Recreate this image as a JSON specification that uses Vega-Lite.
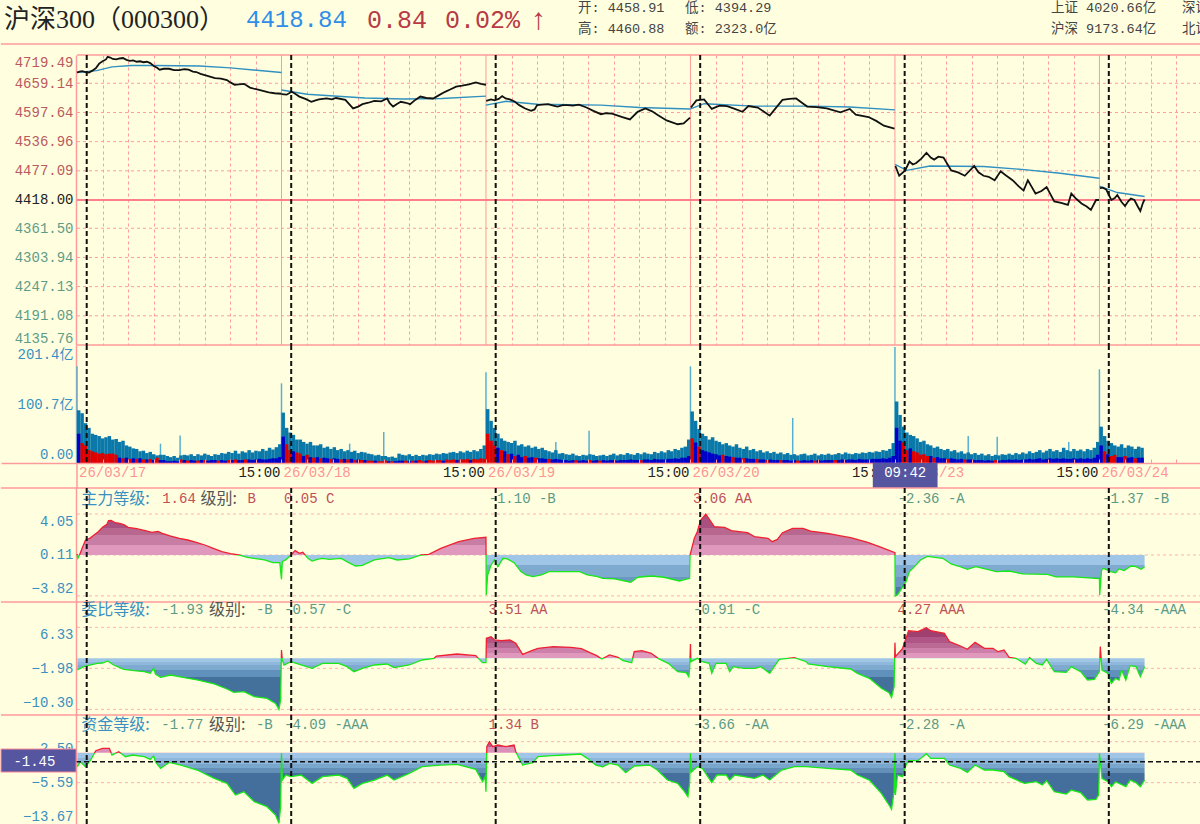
{"$schema":"https://vega.github.io/schema/vega-lite/v6.json","background":"#ffffe0","padding":0,"spacing":0,"bounds":"flush","resolve":{"scale":{"color":"independent"}},"config":{"view":{"stroke":null},"axis":{"labelFont":"Liberation Mono, Noto Sans CJK SC","labelFontSize":14,"ticks":false,"grid":false,"title":null,"domainColor":"#ff9a9a","domainWidth":1.5,"labelPadding":3}},
"datasets":{"cross":[{"t":11.4},{"t":251.4},{"t":491.4},{"t":731.4},{"t":971.4},{"t":1211}],"days":[{"t":240},{"t":480},{"t":720},{"t":960},{"t":1200}],
"vol":[{"t":2,"v":90,"l":50,"c":"b"},{"t":6,"v":85,"l":34,"c":"r"},{"t":10,"v":68,"l":30,"c":"r"},{"t":14,"v":60,"l":22,"c":"r"},{"t":18,"v":50,"l":20,"c":"r"},{"t":22,"v":48,"l":18,"c":"r"},{"t":26,"v":46,"l":16,"c":"r"},{"t":30,"v":42,"l":17,"c":"r"},{"t":34,"v":44,"l":15,"c":"r"},{"t":38,"v":46,"l":16,"c":"r"},{"t":42,"v":40,"l":16,"c":"r"},{"t":46,"v":41,"l":14,"c":"r"},{"t":50,"v":36,"l":9,"c":"b"},{"t":54,"v":38,"l":8,"c":"r"},{"t":58,"v":30,"l":9,"c":"b"},{"t":62,"v":28,"l":7,"c":"r"},{"t":66,"v":25,"l":8,"c":"b"},{"t":70,"v":24,"l":7,"c":"r"},{"t":74,"v":20,"l":8,"c":"b"},{"t":78,"v":21,"l":6,"c":"r"},{"t":82,"v":17,"l":6,"c":"b"},{"t":86,"v":19,"l":7,"c":"r"},{"t":90,"v":15,"l":5,"c":"b"},{"t":94,"v":13,"l":9,"c":"r"},{"t":98,"v":14,"l":5,"c":"b"},{"t":102,"v":14,"l":5,"c":"b"},{"t":106,"v":12,"l":3,"c":"b"},{"t":110,"v":10,"l":3,"c":"b"},{"t":114,"v":12,"l":4,"c":"b"},{"t":118,"v":9,"l":3,"c":"b"},{"t":122,"v":13,"l":6,"c":"r"},{"t":126,"v":14,"l":5,"c":"b"},{"t":130,"v":13,"l":4,"c":"r"},{"t":134,"v":15,"l":5,"c":"b"},{"t":138,"v":12,"l":4,"c":"b"},{"t":142,"v":15,"l":4,"c":"r"},{"t":146,"v":13,"l":5,"c":"b"},{"t":150,"v":16,"l":5,"c":"r"},{"t":154,"v":14,"l":4,"c":"b"},{"t":158,"v":12,"l":5,"c":"b"},{"t":162,"v":15,"l":5,"c":"b"},{"t":166,"v":14,"l":4,"c":"r"},{"t":170,"v":17,"l":5,"c":"b"},{"t":174,"v":16,"l":4,"c":"b"},{"t":178,"v":19,"l":5,"c":"r"},{"t":182,"v":17,"l":5,"c":"b"},{"t":186,"v":21,"l":6,"c":"r"},{"t":190,"v":16,"l":5,"c":"b"},{"t":194,"v":20,"l":5,"c":"b"},{"t":198,"v":18,"l":6,"c":"r"},{"t":202,"v":22,"l":6,"c":"b"},{"t":206,"v":18,"l":5,"c":"b"},{"t":210,"v":21,"l":6,"c":"b"},{"t":214,"v":20,"l":7,"c":"b"},{"t":218,"v":24,"l":6,"c":"b"},{"t":222,"v":21,"l":6,"c":"b"},{"t":226,"v":26,"l":7,"c":"b"},{"t":230,"v":23,"l":8,"c":"b"},{"t":234,"v":27,"l":8,"c":"b"},{"t":238,"v":32,"l":10,"c":"b"},
{"t":242,"v":86,"l":45,"c":"b"},{"t":246,"v":60,"l":32,"c":"r"},{"t":250,"v":52,"l":22,"c":"r"},{"t":254,"v":48,"l":20,"c":"b"},{"t":258,"v":40,"l":18,"c":"r"},{"t":262,"v":40,"l":16,"c":"r"},{"t":266,"v":36,"l":12,"c":"b"},{"t":270,"v":33,"l":14,"c":"r"},{"t":274,"v":36,"l":10,"c":"b"},{"t":278,"v":30,"l":9,"c":"r"},{"t":282,"v":30,"l":10,"c":"b"},{"t":286,"v":32,"l":8,"c":"r"},{"t":290,"v":26,"l":9,"c":"b"},{"t":294,"v":28,"l":8,"c":"b"},{"t":298,"v":24,"l":7,"c":"r"},{"t":302,"v":27,"l":8,"c":"b"},{"t":306,"v":22,"l":7,"c":"b"},{"t":310,"v":24,"l":6,"c":"r"},{"t":314,"v":20,"l":7,"c":"b"},{"t":318,"v":22,"l":6,"c":"r"},{"t":322,"v":19,"l":7,"c":"b"},{"t":326,"v":21,"l":5,"c":"r"},{"t":330,"v":17,"l":6,"c":"b"},{"t":334,"v":19,"l":5,"c":"r"},{"t":338,"v":18,"l":5,"c":"b"},{"t":342,"v":16,"l":4,"c":"r"},{"t":346,"v":15,"l":4,"c":"r"},{"t":350,"v":13,"l":4,"c":"b"},{"t":354,"v":14,"l":3,"c":"r"},{"t":358,"v":12,"l":3,"c":"r"},{"t":362,"v":12,"l":4,"c":"r"},{"t":366,"v":10,"l":3,"c":"b"},{"t":370,"v":11,"l":3,"c":"r"},{"t":374,"v":9,"l":3,"c":"b"},{"t":378,"v":16,"l":4,"c":"b"},{"t":382,"v":14,"l":4,"c":"b"},{"t":386,"v":13,"l":4,"c":"r"},{"t":390,"v":15,"l":3,"c":"b"},{"t":394,"v":12,"l":4,"c":"r"},{"t":398,"v":14,"l":4,"c":"b"},{"t":402,"v":12,"l":5,"c":"r"},{"t":406,"v":14,"l":3,"c":"r"},{"t":410,"v":13,"l":4,"c":"b"},{"t":414,"v":15,"l":5,"c":"r"},{"t":418,"v":14,"l":4,"c":"r"},{"t":422,"v":16,"l":5,"c":"r"},{"t":426,"v":15,"l":5,"c":"r"},{"t":430,"v":17,"l":4,"c":"b"},{"t":434,"v":16,"l":6,"c":"r"},{"t":438,"v":18,"l":5,"c":"r"},{"t":442,"v":19,"l":6,"c":"r"},{"t":446,"v":17,"l":5,"c":"b"},{"t":450,"v":20,"l":6,"c":"r"},{"t":454,"v":18,"l":6,"c":"r"},{"t":458,"v":21,"l":7,"c":"r"},{"t":462,"v":19,"l":5,"c":"b"},{"t":466,"v":22,"l":7,"c":"r"},{"t":470,"v":20,"l":6,"c":"r"},{"t":474,"v":24,"l":8,"c":"r"},{"t":478,"v":30,"l":7,"c":"r"},
{"t":482,"v":92,"l":50,"c":"r"},{"t":486,"v":72,"l":38,"c":"r"},{"t":490,"v":60,"l":30,"c":"r"},{"t":494,"v":50,"l":26,"c":"b"},{"t":498,"v":42,"l":22,"c":"r"},{"t":502,"v":38,"l":20,"c":"b"},{"t":506,"v":36,"l":15,"c":"r"},{"t":510,"v":34,"l":16,"c":"b"},{"t":514,"v":38,"l":12,"c":"r"},{"t":518,"v":30,"l":14,"c":"b"},{"t":522,"v":32,"l":10,"c":"b"},{"t":526,"v":28,"l":12,"c":"r"},{"t":530,"v":30,"l":9,"c":"b"},{"t":534,"v":26,"l":10,"c":"b"},{"t":538,"v":28,"l":9,"c":"r"},{"t":542,"v":24,"l":8,"c":"b"},{"t":546,"v":26,"l":8,"c":"b"},{"t":550,"v":22,"l":7,"c":"b"},{"t":554,"v":20,"l":7,"c":"r"},{"t":558,"v":18,"l":6,"c":"b"},{"t":562,"v":22,"l":7,"c":"b"},{"t":566,"v":16,"l":6,"c":"b"},{"t":570,"v":17,"l":5,"c":"b"},{"t":574,"v":15,"l":5,"c":"b"},{"t":578,"v":14,"l":4,"c":"b"},{"t":582,"v":16,"l":5,"c":"b"},{"t":586,"v":13,"l":5,"c":"r"},{"t":590,"v":12,"l":4,"c":"b"},{"t":594,"v":14,"l":5,"c":"b"},{"t":598,"v":13,"l":4,"c":"b"},{"t":602,"v":15,"l":5,"c":"r"},{"t":606,"v":14,"l":4,"c":"b"},{"t":610,"v":12,"l":5,"c":"b"},{"t":614,"v":13,"l":4,"c":"r"},{"t":618,"v":14,"l":5,"c":"b"},{"t":622,"v":12,"l":4,"c":"b"},{"t":626,"v":14,"l":5,"c":"b"},{"t":630,"v":16,"l":5,"c":"b"},{"t":634,"v":13,"l":4,"c":"b"},{"t":638,"v":15,"l":5,"c":"b"},{"t":642,"v":14,"l":5,"c":"b"},{"t":646,"v":17,"l":5,"c":"b"},{"t":650,"v":15,"l":6,"c":"b"},{"t":654,"v":14,"l":5,"c":"b"},{"t":658,"v":17,"l":5,"c":"b"},{"t":662,"v":15,"l":5,"c":"r"},{"t":666,"v":18,"l":6,"c":"b"},{"t":670,"v":16,"l":6,"c":"b"},{"t":674,"v":15,"l":5,"c":"b"},{"t":678,"v":19,"l":7,"c":"b"},{"t":682,"v":17,"l":6,"c":"b"},{"t":686,"v":20,"l":6,"c":"b"},{"t":690,"v":18,"l":6,"c":"b"},{"t":694,"v":22,"l":7,"c":"b"},{"t":698,"v":20,"l":7,"c":"b"},{"t":702,"v":24,"l":8,"c":"b"},{"t":706,"v":22,"l":7,"c":"b"},{"t":710,"v":26,"l":9,"c":"b"},{"t":714,"v":28,"l":9,"c":"b"},{"t":718,"v":40,"l":12,"c":"b"},
{"t":722,"v":88,"l":42,"c":"r"},{"t":726,"v":72,"l":35,"c":"b"},{"t":730,"v":58,"l":28,"c":"r"},{"t":734,"v":50,"l":22,"c":"b"},{"t":738,"v":46,"l":20,"c":"b"},{"t":742,"v":40,"l":18,"c":"b"},{"t":746,"v":44,"l":16,"c":"b"},{"t":750,"v":38,"l":15,"c":"b"},{"t":754,"v":36,"l":13,"c":"b"},{"t":758,"v":32,"l":14,"c":"r"},{"t":762,"v":34,"l":12,"c":"b"},{"t":766,"v":30,"l":11,"c":"b"},{"t":770,"v":28,"l":10,"c":"r"},{"t":774,"v":32,"l":9,"c":"b"},{"t":778,"v":26,"l":9,"c":"b"},{"t":782,"v":24,"l":8,"c":"r"},{"t":786,"v":28,"l":8,"c":"b"},{"t":790,"v":22,"l":7,"c":"b"},{"t":794,"v":24,"l":7,"c":"b"},{"t":798,"v":20,"l":7,"c":"r"},{"t":802,"v":22,"l":6,"c":"b"},{"t":806,"v":18,"l":6,"c":"b"},{"t":810,"v":20,"l":5,"c":"r"},{"t":814,"v":17,"l":6,"c":"b"},{"t":818,"v":19,"l":5,"c":"b"},{"t":822,"v":16,"l":5,"c":"b"},{"t":826,"v":18,"l":5,"c":"r"},{"t":830,"v":15,"l":5,"c":"b"},{"t":834,"v":17,"l":5,"c":"b"},{"t":838,"v":14,"l":4,"c":"b"},{"t":842,"v":15,"l":5,"c":"b"},{"t":846,"v":13,"l":4,"c":"r"},{"t":850,"v":15,"l":4,"c":"b"},{"t":854,"v":16,"l":5,"c":"b"},{"t":858,"v":13,"l":4,"c":"b"},{"t":862,"v":14,"l":5,"c":"b"},{"t":866,"v":16,"l":4,"c":"r"},{"t":870,"v":13,"l":5,"c":"b"},{"t":874,"v":15,"l":4,"c":"b"},{"t":878,"v":14,"l":5,"c":"b"},{"t":882,"v":16,"l":5,"c":"b"},{"t":886,"v":14,"l":5,"c":"b"},{"t":890,"v":15,"l":5,"c":"r"},{"t":894,"v":17,"l":5,"c":"b"},{"t":898,"v":15,"l":6,"c":"b"},{"t":902,"v":18,"l":5,"c":"b"},{"t":906,"v":16,"l":6,"c":"b"},{"t":910,"v":15,"l":6,"c":"b"},{"t":914,"v":17,"l":5,"c":"b"},{"t":918,"v":16,"l":7,"c":"b"},{"t":922,"v":18,"l":6,"c":"b"},{"t":926,"v":17,"l":6,"c":"b"},{"t":930,"v":19,"l":6,"c":"b"},{"t":934,"v":18,"l":7,"c":"b"},{"t":938,"v":20,"l":7,"c":"b"},{"t":942,"v":19,"l":7,"c":"b"},{"t":946,"v":22,"l":8,"c":"b"},{"t":950,"v":21,"l":7,"c":"b"},{"t":954,"v":24,"l":9,"c":"b"},{"t":958,"v":34,"l":12,"c":"b"},
{"t":962,"v":105,"l":60,"c":"b"},{"t":966,"v":82,"l":38,"c":"b"},{"t":970,"v":62,"l":35,"c":"r"},{"t":974,"v":52,"l":22,"c":"r"},{"t":978,"v":48,"l":25,"c":"b"},{"t":982,"v":46,"l":20,"c":"r"},{"t":986,"v":42,"l":18,"c":"r"},{"t":990,"v":36,"l":14,"c":"r"},{"t":994,"v":38,"l":15,"c":"r"},{"t":998,"v":32,"l":12,"c":"r"},{"t":1002,"v":30,"l":12,"c":"b"},{"t":1006,"v":26,"l":9,"c":"r"},{"t":1010,"v":28,"l":10,"c":"b"},{"t":1014,"v":24,"l":8,"c":"b"},{"t":1018,"v":22,"l":8,"c":"b"},{"t":1022,"v":24,"l":7,"c":"r"},{"t":1026,"v":20,"l":8,"c":"b"},{"t":1030,"v":22,"l":7,"c":"b"},{"t":1034,"v":18,"l":6,"c":"b"},{"t":1038,"v":20,"l":7,"c":"b"},{"t":1042,"v":16,"l":6,"c":"r"},{"t":1046,"v":18,"l":6,"c":"b"},{"t":1050,"v":15,"l":6,"c":"b"},{"t":1054,"v":17,"l":5,"c":"b"},{"t":1058,"v":14,"l":5,"c":"b"},{"t":1062,"v":16,"l":5,"c":"b"},{"t":1066,"v":13,"l":4,"c":"b"},{"t":1070,"v":15,"l":5,"c":"b"},{"t":1074,"v":12,"l":4,"c":"b"},{"t":1078,"v":14,"l":5,"c":"r"},{"t":1082,"v":13,"l":4,"c":"b"},{"t":1086,"v":15,"l":5,"c":"b"},{"t":1090,"v":14,"l":5,"c":"b"},{"t":1094,"v":16,"l":6,"c":"b"},{"t":1098,"v":14,"l":5,"c":"b"},{"t":1102,"v":17,"l":6,"c":"b"},{"t":1106,"v":15,"l":5,"c":"b"},{"t":1110,"v":18,"l":6,"c":"b"},{"t":1114,"v":16,"l":6,"c":"b"},{"t":1118,"v":20,"l":7,"c":"b"},{"t":1122,"v":17,"l":6,"c":"b"},{"t":1126,"v":19,"l":7,"c":"b"},{"t":1130,"v":22,"l":8,"c":"b"},{"t":1134,"v":18,"l":6,"c":"b"},{"t":1138,"v":21,"l":7,"c":"b"},{"t":1142,"v":24,"l":8,"c":"b"},{"t":1146,"v":20,"l":7,"c":"b"},{"t":1150,"v":22,"l":8,"c":"b"},{"t":1154,"v":19,"l":7,"c":"b"},{"t":1158,"v":26,"l":8,"c":"b"},{"t":1162,"v":22,"l":7,"c":"b"},{"t":1166,"v":20,"l":7,"c":"b"},{"t":1170,"v":24,"l":8,"c":"b"},{"t":1174,"v":21,"l":7,"c":"b"},{"t":1178,"v":23,"l":8,"c":"b"},{"t":1182,"v":20,"l":7,"c":"b"},{"t":1186,"v":24,"l":8,"c":"b"},{"t":1190,"v":22,"l":7,"c":"b"},{"t":1194,"v":26,"l":9,"c":"b"},{"t":1198,"v":36,"l":14,"c":"b"},
{"t":1202,"v":62,"l":30,"c":"b"},{"t":1206,"v":46,"l":20,"c":"r"},{"t":1210,"v":38,"l":15,"c":"b"},{"t":1214,"v":34,"l":12,"c":"r"},{"t":1218,"v":30,"l":14,"c":"r"},{"t":1222,"v":28,"l":10,"c":"b"},{"t":1226,"v":32,"l":10,"c":"b"},{"t":1230,"v":26,"l":12,"c":"r"},{"t":1234,"v":30,"l":9,"c":"b"},{"t":1238,"v":28,"l":10,"c":"b"},{"t":1242,"v":24,"l":8,"c":"r"},{"t":1246,"v":28,"l":9,"c":"b"},{"t":1250,"v":26,"l":9,"c":"b"}],
"p1":[{"t":0,"v":0.21},{"t":1,"v":-0.21},{"t":3,"v":0.11},{"t":6,"v":0.75},{"t":10,"v":1.55},{"t":15,"v":1.71},{"t":20,"v":2.03},{"t":25,"v":2.35},{"t":30,"v":2.77},{"t":35,"v":3.05},{"t":37,"v":3.41},{"t":40,"v":3.44},{"t":45,"v":3.21},{"t":50,"v":3.15},{"t":55,"v":3.02},{"t":60,"v":2.77},{"t":70,"v":2.64},{"t":80,"v":2.45},{"t":88,"v":2.29},{"t":95,"v":2.38},{"t":100,"v":2.19},{"t":110,"v":1.93},{"t":120,"v":1.71},{"t":130,"v":1.55},{"t":140,"v":1.33},{"t":150,"v":1.07},{"t":160,"v":0.75},{"t":170,"v":0.43},{"t":180,"v":0.24},{"t":190,"v":0.11},{"t":200,"v":-0.11},{"t":210,"v":-0.24},{"t":220,"v":-0.37},{"t":230,"v":-0.63},{"t":238,"v":-0.63},{"t":240,"v":-2.23},{"t":241,"v":-0.5},{"t":245,"v":-0.37},{"t":251,"v":0.11},{"t":256,"v":0.53},{"t":261,"v":0.27},{"t":265,"v":0.37},{"t":271,"v":-0.21},{"t":276,"v":-0.47},{"t":282,"v":-0.31},{"t":288,"v":-0.21},{"t":296,"v":-0.31},{"t":310,"v":-0.21},{"t":319,"v":-0.63},{"t":327,"v":-0.95},{"t":335,"v":-0.88},{"t":349,"v":-0.37},{"t":366,"v":-0.15},{"t":376,"v":-0.37},{"t":390,"v":-0.27},{"t":404,"v":0.11},{"t":413,"v":0.17},{"t":427,"v":0.75},{"t":448,"v":1.39},{"t":466,"v":1.71},{"t":480,"v":1.81},{"t":480.3,"v":-3.73},{"t":482,"v":-1.81},{"t":486,"v":-0.85},{"t":490,"v":-0.37},{"t":494,"v":-1.01},{"t":500,"v":-0.21},{"t":505,"v":-0.27},{"t":513,"v":-0.63},{"t":521,"v":-1.49},{"t":527,"v":-1.81},{"t":535,"v":-1.97},{"t":545,"v":-1.81},{"t":554,"v":-1.49},{"t":572,"v":-1.49},{"t":590,"v":-1.49},{"t":599,"v":-1.81},{"t":611,"v":-1.97},{"t":617,"v":-2.13},{"t":631,"v":-2.19},{"t":650,"v":-2.51},{"t":658,"v":-2.03},{"t":674,"v":-1.91},{"t":689,"v":-2.03},{"t":707,"v":-2.39},{"t":719,"v":-2.13},{"t":719.5,"v":0.11},{"t":724.5,"v":1.71},{"t":728,"v":2.35},{"t":732,"v":3.47},{"t":738,"v":4.05},{"t":744,"v":3.31},{"t":748,"v":2.83},{"t":760,"v":2.77},{"t":768,"v":2.45},{"t":777,"v":2.35},{"t":787,"v":2.25},{"t":795,"v":1.87},{"t":811,"v":1.71},{"t":816,"v":1.39},{"t":822,"v":1.61},{"t":828,"v":2.25},{"t":840,"v":2.67},{"t":852,"v":2.67},{"t":861,"v":2.41},{"t":881,"v":2.19},{"t":901,"v":1.87},{"t":908,"v":1.77},{"t":928,"v":1.33},{"t":944,"v":0.85},{"t":960,"v":0.33},{"t":960.3,"v":-3.83},{"t":963,"v":-3.73},{"t":973,"v":-2.45},{"t":977,"v":-1.49},{"t":983,"v":-1.01},{"t":990,"v":-0.37},{"t":998,"v":-0.02},{"t":1016,"v":-0.21},{"t":1026,"v":-0.75},{"t":1034,"v":-0.95},{"t":1045,"v":-1.27},{"t":1055,"v":-1.01},{"t":1079,"v":-1.49},{"t":1094,"v":-1.43},{"t":1110,"v":-1.71},{"t":1139,"v":-1.75},{"t":1149,"v":-2.0},{"t":1170,"v":-2.0},{"t":1200,"v":-2.16},{"t":1200.3,"v":-3.73},{"t":1202.5,"v":-1.33},{"t":1205,"v":-1.17},{"t":1213,"v":-1.49},{"t":1219,"v":-1.59},{"t":1223,"v":-1.23},{"t":1229,"v":-1.39},{"t":1237,"v":-0.95},{"t":1243,"v":-1.01},{"t":1249,"v":-1.27},{"t":1253,"v":-1.01}],
"p2":[{"t":0.4,"v":-2.32},{"t":8,"v":-1.64},{"t":16,"v":-1.3},{"t":24,"v":-0.96},{"t":30,"v":-0.9},{"t":36,"v":-0.49},{"t":43,"v":-1.3},{"t":55,"v":-2.18},{"t":67,"v":-2.45},{"t":79,"v":-2.65},{"t":86,"v":-2.99},{"t":90,"v":-1.98},{"t":92,"v":-3.13},{"t":98,"v":-3.8},{"t":110,"v":-3.33},{"t":126,"v":-3.87},{"t":141,"v":-4.34},{"t":161,"v":-5.15},{"t":176,"v":-6.17},{"t":184,"v":-6.85},{"t":196,"v":-6.71},{"t":208,"v":-7.72},{"t":223,"v":-8.06},{"t":233,"v":-9.08},{"t":237,"v":-10.29},{"t":239,"v":-8.4},{"t":240,"v":1.74},{"t":241,"v":-0.29},{"t":243,"v":-1.3},{"t":251,"v":-0.63},{"t":263,"v":-1.3},{"t":276,"v":-1.98},{"t":288,"v":-0.96},{"t":307,"v":-0.96},{"t":317,"v":-1.64},{"t":325,"v":-2.65},{"t":335,"v":-1.98},{"t":349,"v":-1.3},{"t":364,"v":-1.1},{"t":372,"v":-1.84},{"t":390,"v":-1.3},{"t":405,"v":-0.29},{"t":419,"v":0.05},{"t":422,"v":0.52},{"t":446,"v":0.93},{"t":468,"v":0.59},{"t":476,"v":-0.83},{"t":480,"v":-0.83},{"t":480.5,"v":4.11},{"t":486,"v":4.44},{"t":490,"v":3.77},{"t":498,"v":3.63},{"t":508,"v":3.77},{"t":515,"v":3.09},{"t":523,"v":0.86},{"t":533,"v":1.54},{"t":541,"v":2.08},{"t":559,"v":2.42},{"t":580,"v":2.28},{"t":592,"v":2.01},{"t":602,"v":1.2},{"t":610,"v":0.59},{"t":616,"v":-0.09},{"t":625,"v":0.73},{"t":635,"v":0.25},{"t":641,"v":-0.42},{"t":651,"v":-0.83},{"t":654,"v":1.4},{"t":663,"v":1.6},{"t":674,"v":1.06},{"t":682,"v":0.05},{"t":694,"v":-0.96},{"t":705,"v":-2.65},{"t":715,"v":-2.86},{"t":718,"v":-3.67},{"t":719,"v":-2.32},{"t":720,"v":2.96},{"t":720.5,"v":-0.63},{"t":728,"v":0.05},{"t":734,"v":-0.63},{"t":742,"v":-0.96},{"t":745,"v":-2.99},{"t":750,"v":-0.96},{"t":762,"v":-0.96},{"t":766,"v":-2.65},{"t":770,"v":-1.64},{"t":783,"v":-1.98},{"t":795,"v":-1.98},{"t":803,"v":-1.64},{"t":813,"v":-2.99},{"t":824,"v":-0.15},{"t":842,"v":0.19},{"t":856,"v":-0.63},{"t":858,"v":-1.1},{"t":881,"v":-1.64},{"t":908,"v":-2.11},{"t":916,"v":-2.99},{"t":930,"v":-4.0},{"t":944,"v":-6.03},{"t":953,"v":-6.91},{"t":956,"v":-7.86},{"t":959,"v":-5.7},{"t":960,"v":3.23},{"t":960.5,"v":0.39},{"t":969,"v":2.08},{"t":973,"v":4.11},{"t":976,"v":5.66},{"t":987,"v":5.46},{"t":997,"v":6.27},{"t":1002,"v":5.66},{"t":1018,"v":5.12},{"t":1024,"v":3.43},{"t":1037,"v":2.55},{"t":1045,"v":1.88},{"t":1054,"v":3.29},{"t":1065,"v":2.08},{"t":1075,"v":2.08},{"t":1081,"v":1.4},{"t":1088,"v":1.74},{"t":1094,"v":0.25},{"t":1102,"v":0.05},{"t":1113,"v":-1.1},{"t":1118,"v":0.19},{"t":1126,"v":-0.96},{"t":1133,"v":-1.3},{"t":1138,"v":-0.15},{"t":1147,"v":-2.65},{"t":1161,"v":-2.79},{"t":1167,"v":-1.64},{"t":1178,"v":-2.65},{"t":1186,"v":-4.34},{"t":1194,"v":-4.21},{"t":1200,"v":-2.65},{"t":1201,"v":2.42},{"t":1203,"v":-2.32},{"t":1210,"v":-2.99},{"t":1214,"v":-5.02},{"t":1219,"v":-4.0},{"t":1223,"v":-4.34},{"t":1226,"v":-2.32},{"t":1231,"v":-4.34},{"t":1236,"v":-1.44},{"t":1243,"v":-1.64},{"t":1248,"v":-3.67},{"t":1253,"v":-1.64}],
"p3":[{"t":0.4,"v":-2.44},{"t":4,"v":-1.45},{"t":10,"v":-2.44},{"t":16,"v":-1.12},{"t":22,"v":0.72},{"t":30,"v":1.18},{"t":38,"v":1.18},{"t":41,"v":-0.13},{"t":49,"v":0.53},{"t":57,"v":-0.46},{"t":65,"v":-0.13},{"t":79,"v":-0.46},{"t":86,"v":-0.99},{"t":90,"v":-0.33},{"t":92,"v":-1.45},{"t":98,"v":-2.76},{"t":108,"v":-1.58},{"t":122,"v":-2.11},{"t":141,"v":-3.09},{"t":161,"v":-4.74},{"t":176,"v":-5.73},{"t":186,"v":-8.03},{"t":196,"v":-7.37},{"t":208,"v":-9.34},{"t":223,"v":-10.33},{"t":233,"v":-11.98},{"t":237,"v":-13.62},{"t":239,"v":-10.33},{"t":240,"v":0.2},{"t":241,"v":-5.07},{"t":245,"v":-4.08},{"t":251,"v":-4.41},{"t":263,"v":-4.08},{"t":276,"v":-5.73},{"t":288,"v":-4.41},{"t":307,"v":-4.08},{"t":317,"v":-4.74},{"t":325,"v":-6.71},{"t":335,"v":-5.73},{"t":349,"v":-5.07},{"t":364,"v":-4.08},{"t":372,"v":-5.07},{"t":390,"v":-3.75},{"t":405,"v":-2.44},{"t":427,"v":-2.11},{"t":446,"v":-1.97},{"t":468,"v":-2.96},{"t":476,"v":-5.4},{"t":479,"v":-4.41},{"t":480,"v":-7.37},{"t":481,"v":1.51},{"t":484,"v":2.5},{"t":488,"v":1.51},{"t":494,"v":1.84},{"t":503,"v":1.51},{"t":513,"v":1.84},{"t":515,"v":0.53},{"t":523,"v":-2.11},{"t":535,"v":-1.65},{"t":541,"v":-0.46},{"t":558,"v":-0.26},{"t":572,"v":-0.13},{"t":591,"v":0.07},{"t":599,"v":-0.79},{"t":609,"v":-2.11},{"t":617,"v":-2.44},{"t":625,"v":-1.78},{"t":635,"v":-2.11},{"t":644,"v":-3.62},{"t":654,"v":-2.3},{"t":672,"v":-2.11},{"t":681,"v":-3.09},{"t":693,"v":-5.07},{"t":705,"v":-5.73},{"t":713,"v":-7.37},{"t":717,"v":-8.36},{"t":719,"v":-5.73},{"t":720,"v":0.2},{"t":721,"v":-3.5},{"t":728,"v":-2.44},{"t":734,"v":-2.76},{"t":745,"v":-5.59},{"t":751,"v":-4.08},{"t":762,"v":-4.08},{"t":766,"v":-5.07},{"t":772,"v":-4.08},{"t":783,"v":-4.41},{"t":795,"v":-4.74},{"t":805,"v":-4.08},{"t":813,"v":-5.07},{"t":827,"v":-3.09},{"t":842,"v":-2.44},{"t":856,"v":-2.44},{"t":881,"v":-2.76},{"t":908,"v":-3.09},{"t":916,"v":-4.08},{"t":930,"v":-5.07},{"t":944,"v":-7.7},{"t":953,"v":-10.0},{"t":956,"v":-10.86},{"t":959,"v":-7.37},{"t":960,"v":0.2},{"t":960.5,"v":-8.03},{"t":963,"v":-4.08},{"t":969,"v":-4.41},{"t":973,"v":-2.11},{"t":976,"v":-1.25},{"t":987,"v":-1.25},{"t":997,"v":0.13},{"t":1002,"v":-0.79},{"t":1018,"v":-0.79},{"t":1024,"v":-2.11},{"t":1037,"v":-2.76},{"t":1045,"v":-3.55},{"t":1054,"v":-2.11},{"t":1065,"v":-3.09},{"t":1075,"v":-3.09},{"t":1088,"v":-3.42},{"t":1094,"v":-4.41},{"t":1112,"v":-5.73},{"t":1126,"v":-5.4},{"t":1133,"v":-6.05},{"t":1138,"v":-5.2},{"t":1147,"v":-7.37},{"t":1161,"v":-7.83},{"t":1167,"v":-7.04},{"t":1178,"v":-7.57},{"t":1186,"v":-9.02},{"t":1196,"v":-8.88},{"t":1199,"v":-8.03},{"t":1199.6,"v":-4.41},{"t":1200,"v":0.2},{"t":1203,"v":-4.74},{"t":1210,"v":-5.4},{"t":1214,"v":-6.38},{"t":1219,"v":-5.4},{"t":1231,"v":-6.38},{"t":1236,"v":-5.07},{"t":1243,"v":-5.59},{"t":1248,"v":-6.38},{"t":1253,"v":-5.07}]},
"vconcat":[
{"width":1200,"height":55,"resolve":{"axis":{"x":"independent","y":"independent"}},"layer":[
{"data":{"values":[{"r":4}]},"mark":{"type":"rule","color":"#ff9a9a","strokeWidth":1.5},"encoding":{"y":{"field":"r","type":"quantitative","axis":null,"scale":{"domain":[1,2,3,4],"range":[8,20,29,44]}}}},
{"data":{"values":[{"s":"沪深300（000300）","c":1,"r":2}]},"mark":{"type":"text","align":"left","font":"Liberation Serif, Noto Sans CJK SC","fontSize":26,"color":"#222"},"encoding":{"x":{"field":"c","type":"quantitative","axis":null,"scale":{"domain":[1,2,3,4,5,6,7,8,9],"range":[3,245,366,444,530,577,684,1050,1181]}},"y":{"field":"r","type":"quantitative","axis":null},"text":{"field":"s"}}},
{"data":{"values":[{"s":"4418.84","c":2,"r":2}]},"mark":{"type":"text","align":"left","font":"Liberation Mono","fontSize":24,"color":"#2f8ee8"},"encoding":{"x":{"field":"c","type":"quantitative","axis":null},"y":{"field":"r","type":"quantitative","axis":null},"text":{"field":"s"}}},
{"data":{"values":[{"s":"0.84","c":3,"r":2},{"s":"0.02%","c":4,"r":2}]},"mark":{"type":"text","align":"left","font":"Liberation Mono","fontSize":25,"color":"#b83a46"},"encoding":{"x":{"field":"c","type":"quantitative","axis":null},"y":{"field":"r","type":"quantitative","axis":null},"text":{"field":"s"}}},
{"data":{"values":[{"s":"↑","c":5,"r":2}]},"mark":{"type":"text","align":"left","font":"Liberation Serif","fontSize":30,"color":"#b83a46"},"encoding":{"x":{"field":"c","type":"quantitative","axis":null},"y":{"field":"r","type":"quantitative","axis":null},"text":{"field":"s"}}},
{"data":{"values":[{"s":"开: 4458.91","c":6,"r":1},{"s":"低: 4394.29","c":7,"r":1},{"s":"高: 4460.88","c":6,"r":3},{"s":"额: 2323.0亿","c":7,"r":3},{"s":"上证 4020.66亿","c":8,"r":1},{"s":"沪深 9173.64亿","c":8,"r":3},{"s":"深证","c":9,"r":1},{"s":"北证","c":9,"r":3}]},"mark":{"type":"text","align":"left","font":"Liberation Mono, Noto Sans CJK SC","fontSize":13.5,"color":"#444"},"encoding":{"x":{"field":"c","type":"quantitative","axis":null},"y":{"field":"r","type":"quantitative","axis":null},"text":{"field":"s"}}}
]},
{"width":1200,"height":290,"resolve":{"axis":{"x":"independent","y":"independent"}},"layer":[
{"data":{"values":[{"g":4719.49},{"g":4135.76}]},"mark":{"type":"rule","color":"#ff9a9a","strokeWidth":1.5},"encoding":{"x":{"datum":0,"type":"quantitative","scale":{"domain":[-89.2,1319.2],"nice":false,"zero":false},"axis":{"values":[30,60,90,120,150,180,210,270,300,330,360,390,420,450,510,540,570,600,630,660,690,750,780,810,840,870,900,930,990,1020,1050,1080,1110,1140,1170,1230,1260,1290],"grid":true,"gridDash":[3,3],"gridColor":"#ff9c9c","gridWidth":1,"labels":false,"domain":false}},"x2":{"datum":1319.2},"y":{"field":"g","type":"quantitative","scale":{"type":"log","domain":[4135.76,4719.49],"nice":false,"zero":false},"axis":{"orient":"left","offset":-75,"values":[4719.49,4659.14,4597.64,4536.96,4477.09,4418,4361.5,4303.94,4247.13,4191.08,4135.76],"format":".2f","labelFlush":true,"labelColor":{"expr":"datum.value>4418.5?'#bb5a5e':(datum.value>4417?'#222':'#5f9c88')"}}}}},
{"data":{"values":[{"g":4659.14},{"g":4597.64},{"g":4536.96},{"g":4477.09},{"g":4361.5},{"g":4303.94},{"g":4247.13},{"g":4191.08}]},"mark":{"type":"rule","color":"#ff9c9c","strokeDash":[3,3]},"encoding":{"x":{"datum":0,"type":"quantitative","axis":null},"x2":{"datum":1319.2},"y":{"field":"g","type":"quantitative","axis":null}}},
{"data":{"name":"days"},"mark":{"type":"rule","color":"#ff9a9a"},"encoding":{"x":{"field":"t","type":"quantitative","axis":null}}},
{"data":{"values":[{"g":4418}]},"mark":{"type":"rule","color":"#ff7f8c","strokeWidth":2},"encoding":{"x":{"datum":0,"type":"quantitative","axis":null},"x2":{"datum":1319.2},"y":{"field":"g","type":"quantitative","axis":null}}},
{"data":{"values":[{"t":0,"m":4682,"d":1},{"t":23,"m":4686,"d":1},{"t":41,"m":4694,"d":1},{"t":64,"m":4697,"d":1},{"t":90,"m":4697,"d":1},{"t":144,"m":4696,"d":1},{"t":180,"m":4692,"d":1},{"t":240,"m":4682,"d":1},{"t":240,"m":4645,"d":2},{"t":270,"m":4636,"d":2},{"t":338,"m":4628,"d":2},{"t":383,"m":4626,"d":2},{"t":428,"m":4627,"d":2},{"t":480,"m":4632,"d":2},{"t":480,"m":4613,"d":3},{"t":504,"m":4621,"d":3},{"t":540,"m":4615,"d":3},{"t":615,"m":4613,"d":3},{"t":660,"m":4608,"d":3},{"t":720,"m":4605,"d":3},{"t":720,"m":4605,"d":4},{"t":736,"m":4616,"d":4},{"t":795,"m":4611,"d":4},{"t":862,"m":4611,"d":4},{"t":907,"m":4609,"d":4},{"t":960,"m":4603,"d":4},{"t":960,"m":4490,"d":5},{"t":974,"m":4478,"d":5},{"t":1001,"m":4487,"d":5},{"t":1064,"m":4486,"d":5},{"t":1109,"m":4480,"d":5},{"t":1154,"m":4472,"d":5},{"t":1200,"m":4462,"d":5},{"t":1200,"m":4446,"d":6},{"t":1221,"m":4433,"d":6},{"t":1253,"m":4425,"d":6}]},"mark":{"type":"line","color":"#3090c0","strokeWidth":1.4},"encoding":{"x":{"field":"t","type":"quantitative","axis":null},"y":{"field":"m","type":"quantitative","axis":null},"detail":{"field":"d"}}},
{"data":{"values":[{"t":0,"p":4682,"d":1},{"t":3,"p":4684,"d":1},{"t":6,"p":4685,"d":1},{"t":10,"p":4683,"d":1},{"t":14,"p":4682,"d":1},{"t":18,"p":4686,"d":1},{"t":22,"p":4691,"d":1},{"t":26,"p":4701,"d":1},{"t":30,"p":4706,"d":1},{"t":34,"p":4710,"d":1},{"t":36,"p":4715.5,"d":1},{"t":39,"p":4714,"d":1},{"t":42,"p":4711,"d":1},{"t":46,"p":4710,"d":1},{"t":50,"p":4712,"d":1},{"t":54,"p":4713,"d":1},{"t":58,"p":4709,"d":1},{"t":62,"p":4707,"d":1},{"t":66,"p":4708,"d":1},{"t":70,"p":4705,"d":1},{"t":74,"p":4706,"d":1},{"t":78,"p":4704,"d":1},{"t":82,"p":4705,"d":1},{"t":86,"p":4702,"d":1},{"t":90,"p":4696,"d":1},{"t":94,"p":4692,"d":1},{"t":97,"p":4688,"d":1},{"t":102,"p":4690,"d":1},{"t":108,"p":4690,"d":1},{"t":114,"p":4687,"d":1},{"t":120,"p":4687,"d":1},{"t":126,"p":4689,"d":1},{"t":131,"p":4688,"d":1},{"t":136,"p":4684,"d":1},{"t":140,"p":4683,"d":1},{"t":145,"p":4679,"d":1},{"t":149,"p":4677,"d":1},{"t":155,"p":4674,"d":1},{"t":162,"p":4670,"d":1},{"t":169,"p":4669,"d":1},{"t":176,"p":4666,"d":1},{"t":180,"p":4661,"d":1},{"t":185,"p":4656,"d":1},{"t":190,"p":4657,"d":1},{"t":196,"p":4658,"d":1},{"t":203,"p":4650,"d":1},{"t":209,"p":4647,"d":1},{"t":216,"p":4644,"d":1},{"t":225,"p":4640,"d":1},{"t":232,"p":4638,"d":1},{"t":240,"p":4637,"d":1},
{"t":240,"p":4636,"d":2},{"t":246,"p":4635,"d":2},{"t":252,"p":4641,"d":2},{"t":256,"p":4637,"d":2},{"t":261,"p":4631,"d":2},{"t":268,"p":4626,"d":2},{"t":275,"p":4620,"d":2},{"t":280,"p":4623,"d":2},{"t":284,"p":4625,"d":2},{"t":293,"p":4627,"d":2},{"t":299,"p":4625,"d":2},{"t":304,"p":4628,"d":2},{"t":315,"p":4624,"d":2},{"t":320,"p":4614,"d":2},{"t":324,"p":4606,"d":2},{"t":330,"p":4610,"d":2},{"t":335,"p":4615,"d":2},{"t":342,"p":4618,"d":2},{"t":349,"p":4622,"d":2},{"t":357,"p":4621,"d":2},{"t":364,"p":4627,"d":2},{"t":367,"p":4617,"d":2},{"t":371,"p":4610,"d":2},{"t":376,"p":4616,"d":2},{"t":380,"p":4620,"d":2},{"t":386,"p":4618,"d":2},{"t":391,"p":4615,"d":2},{"t":397,"p":4624,"d":2},{"t":403,"p":4631,"d":2},{"t":410,"p":4628,"d":2},{"t":418,"p":4627,"d":2},{"t":425,"p":4634,"d":2},{"t":432,"p":4641,"d":2},{"t":438,"p":4646,"d":2},{"t":445,"p":4652,"d":2},{"t":452,"p":4654,"d":2},{"t":460,"p":4657,"d":2},{"t":468,"p":4661,"d":2},{"t":474,"p":4658,"d":2},{"t":480,"p":4656,"d":2},
{"t":480.3,"p":4622,"d":3},{"t":486,"p":4625,"d":3},{"t":490,"p":4623,"d":3},{"t":495,"p":4626,"d":3},{"t":499,"p":4632,"d":3},{"t":503,"p":4627,"d":3},{"t":508,"p":4625,"d":3},{"t":514,"p":4620,"d":3},{"t":519,"p":4613,"d":3},{"t":526,"p":4606,"d":3},{"t":533,"p":4601,"d":3},{"t":537,"p":4604,"d":3},{"t":540,"p":4613,"d":3},{"t":546,"p":4614,"d":3},{"t":553,"p":4615,"d":3},{"t":559,"p":4612,"d":3},{"t":564,"p":4610,"d":3},{"t":570,"p":4613,"d":3},{"t":576,"p":4613,"d":3},{"t":582,"p":4612,"d":3},{"t":589,"p":4614,"d":3},{"t":598,"p":4608,"d":3},{"t":606,"p":4601,"d":3},{"t":615,"p":4594,"d":3},{"t":621,"p":4596,"d":3},{"t":628,"p":4595,"d":3},{"t":640,"p":4588,"d":3},{"t":649,"p":4583,"d":3},{"t":658,"p":4599,"d":3},{"t":667,"p":4606,"d":3},{"t":675,"p":4600,"d":3},{"t":682,"p":4592,"d":3},{"t":692,"p":4581,"d":3},{"t":705,"p":4573,"d":3},{"t":712,"p":4575,"d":3},{"t":719.5,"p":4587,"d":3},
{"t":720.5,"p":4608,"d":4},{"t":727,"p":4623,"d":4},{"t":736,"p":4625,"d":4},{"t":745,"p":4605,"d":4},{"t":754,"p":4612,"d":4},{"t":763,"p":4611,"d":4},{"t":772,"p":4605,"d":4},{"t":781,"p":4599,"d":4},{"t":788,"p":4611,"d":4},{"t":799,"p":4608,"d":4},{"t":813,"p":4591,"d":4},{"t":822,"p":4611,"d":4},{"t":828,"p":4624,"d":4},{"t":836,"p":4626,"d":4},{"t":844,"p":4627,"d":4},{"t":850,"p":4619,"d":4},{"t":857,"p":4610,"d":4},{"t":868,"p":4609,"d":4},{"t":880,"p":4606,"d":4},{"t":896,"p":4598,"d":4},{"t":907,"p":4605,"d":4},{"t":914,"p":4593,"d":4},{"t":929,"p":4588,"d":4},{"t":938,"p":4580,"d":4},{"t":947,"p":4570,"d":4},{"t":959.5,"p":4564,"d":4},
{"t":960.5,"p":4487,"d":5},{"t":965,"p":4467,"d":5},{"t":972,"p":4478,"d":5},{"t":977,"p":4496,"d":5},{"t":981,"p":4490,"d":5},{"t":985,"p":4493,"d":5},{"t":991,"p":4502,"d":5},{"t":997,"p":4514,"d":5},{"t":1002,"p":4504,"d":5},{"t":1006,"p":4500,"d":5},{"t":1011,"p":4506,"d":5},{"t":1017,"p":4504,"d":5},{"t":1026,"p":4478,"d":5},{"t":1034,"p":4474,"d":5},{"t":1042,"p":4467,"d":5},{"t":1053,"p":4487,"d":5},{"t":1058,"p":4474,"d":5},{"t":1064,"p":4467,"d":5},{"t":1070,"p":4465,"d":5},{"t":1077,"p":4458,"d":5},{"t":1084,"p":4476,"d":5},{"t":1090,"p":4468,"d":5},{"t":1098,"p":4458,"d":5},{"t":1105,"p":4446,"d":5},{"t":1111,"p":4437,"d":5},{"t":1116,"p":4458,"d":5},{"t":1120,"p":4446,"d":5},{"t":1125,"p":4431,"d":5},{"t":1132,"p":4436,"d":5},{"t":1138,"p":4444,"d":5},{"t":1147,"p":4415,"d":5},{"t":1155,"p":4412,"d":5},{"t":1163,"p":4408,"d":5},{"t":1167,"p":4431,"d":5},{"t":1173,"p":4420,"d":5},{"t":1179,"p":4411,"d":5},{"t":1185,"p":4405,"d":5},{"t":1190,"p":4398,"d":5},{"t":1196,"p":4418,"d":5},{"t":1199.5,"p":4418,"d":5},
{"t":1200.5,"p":4442,"d":6},{"t":1204,"p":4443,"d":6},{"t":1208,"p":4439,"d":6},{"t":1214,"p":4418,"d":6},{"t":1218,"p":4422,"d":6},{"t":1221,"p":4428,"d":6},{"t":1226,"p":4414,"d":6},{"t":1230,"p":4406,"d":6},{"t":1234,"p":4416,"d":6},{"t":1237,"p":4421,"d":6},{"t":1241,"p":4418,"d":6},{"t":1245,"p":4405,"d":6},{"t":1248,"p":4396,"d":6},{"t":1251,"p":4412,"d":6},{"t":1253,"p":4419,"d":6}]},"mark":{"type":"line","color":"#111","strokeWidth":1.8},"encoding":{"x":{"field":"t","type":"quantitative","axis":null},"y":{"field":"p","type":"quantitative","axis":null},"detail":{"field":"d"}}},
{"data":{"name":"cross"},"mark":{"type":"rule","color":"#111","strokeWidth":2,"strokeDash":[5,3]},"encoding":{"x":{"field":"t","type":"quantitative","axis":null}}}
]},
{"width":1200,"height":118,"resolve":{"axis":{"x":"independent","y":"independent"}},"layer":[
{"data":{"values":[{"t":0,"s":165},{"t":98,"s":33},{"t":121,"s":47},{"t":240,"s":136},{"t":320,"s":33},{"t":360,"s":53},{"t":480,"s":155},{"t":562,"s":36},{"t":601,"s":55},{"t":720,"s":165},{"t":840,"s":77},{"t":960,"s":198},{"t":1046,"s":46},{"t":1080,"s":45},{"t":1164,"s":36},{"t":1200,"s":160}]},"mark":{"type":"bar","width":1.5,"color":"#58b0d0"},"encoding":{"x":{"field":"t","type":"quantitative","scale":{"domain":[-89.2,1319.2],"nice":false,"zero":false,"padding":0},"axis":null},"y":{"field":"s","type":"quantitative","scale":{"domain":[0,201.4],"nice":false},"axis":{"orient":"left","offset":-75,"values":[0,100.7,201.4],"labelFlush":true,"labelFlushOffset":-2,"labelColor":"#3a90c0","labelExpr":"datum.value==0?'0.00':format(datum.value,'.1f')+'亿'"}}}},
{"data":{"name":"vol"},"mark":{"type":"bar","width":3.5,"color":"#0a78a8"},"encoding":{"x":{"field":"t","type":"quantitative","axis":null},"y":{"field":"v","type":"quantitative","axis":null}}},
{"data":{"name":"vol"},"mark":{"type":"bar","width":3.5},"encoding":{"x":{"field":"t","type":"quantitative","axis":null},"y":{"field":"l","type":"quantitative","axis":null},"color":{"field":"c","type":"nominal","legend":null,"scale":{"domain":["r","b"],"range":["#e00000","#0000c8"]}}}},
{"data":{"name":"cross"},"mark":{"type":"rule","color":"#111","strokeWidth":2,"strokeDash":[5,3]},"encoding":{"x":{"field":"t","type":"quantitative","axis":null}}}
]},
{"width":1200,"height":25,"resolve":{"axis":{"x":"independent","y":"independent"}},"layer":[
{"data":{"values":[{"t":0,"s":"26/03/17"},{"t":240,"s":"26/03/18"},{"t":480,"s":"26/03/19"},{"t":720,"s":"26/03/20"},{"t":960,"s":"26/03/23"},{"t":1200,"s":"26/03/24"}]},"mark":{"type":"text","align":"left","dx":2,"font":"Liberation Mono","fontSize":14,"color":"#ff9494"},"encoding":{"x":{"field":"t","type":"quantitative","scale":{"domain":[-89.2,1319.2],"nice":false,"zero":false},"axis":{"orient":"top","values":[30,60,90,120,150,180,210,240,270,300,330,360,390,420,450,480,510,540,570,600,630,660,690,720,750,780,810,840,870,900,930,960,990,1020,1050,1080,1110,1140,1170,1200,1230,1260,1290],"ticks":true,"tickColor":"#ff9a9a","tickSize":4,"labels":false}},"y":{"datum":0.6,"type":"quantitative","scale":{"domain":[0,1],"nice":false},"axis":null},"text":{"field":"s"}}},
{"data":{"values":[{"t":240,"s":"15:00"},{"t":480,"s":"15:00"},{"t":720,"s":"15:00"},{"t":960,"s":"15:00"},{"t":1200,"s":"15:00"}]},"mark":{"type":"text","align":"right","dx":-1,"font":"Liberation Mono","fontSize":14,"color":"#222"},"encoding":{"x":{"field":"t","type":"quantitative","axis":null},"y":{"datum":0.6,"type":"quantitative","axis":null},"text":{"field":"s"}}},
{"data":{"values":[{"a":934,"b":1010}]},"mark":{"type":"rect","color":"#5656a0"},"encoding":{"x":{"field":"a","type":"quantitative","axis":null},"x2":{"field":"b"},"y":{"datum":0,"type":"quantitative","axis":null},"y2":{"datum":1}}},
{"data":{"values":[{"t":972,"s":"09:42"}]},"mark":{"type":"text","align":"center","font":"Liberation Mono","fontSize":14,"color":"#ffffff"},"encoding":{"x":{"field":"t","type":"quantitative","axis":null},"y":{"datum":0.6,"type":"quantitative","axis":null},"text":{"field":"s"}}},
{"data":{"values":[{"t":0}]},"mark":{"type":"rule","color":"#ff9a9a","strokeWidth":1.5},"encoding":{"x":{"field":"t","type":"quantitative","axis":null}}}
]},
{"width":1200,"height":114,"resolve":{"axis":{"x":"independent","y":"independent"}},"layer":[
{"data":{"values":[{"g":6.55}]},"mark":{"type":"rule","color":"#ff9a9a","strokeWidth":1.5},"encoding":{"y":{"field":"g","type":"quantitative","scale":{"domain":[-4.41,6.55],"nice":false,"zero":false},"axis":{"orient":"left","offset":-75,"values":[4.05,0.11,-3.82],"format":".2f","labelColor":"#3a90c0","labelBaseline":{"expr":"datum.value>1?'top':(datum.value<-1?'bottom':'middle')"}}}}},
{"data":{"values":[{"g":4.05},{"g":0.11},{"g":-3.82}]},"mark":{"type":"rule","color":"#ffb0b0","strokeDash":[3,3]},"encoding":{"x":{"datum":0,"type":"quantitative","scale":{"domain":[-89.2,1319.2],"nice":false,"zero":false},"axis":null},"x2":{"datum":1319.2},"y":{"field":"g","type":"quantitative","axis":null}}},
{"data":{"name":"p1"},"mark":{"type":"area","color":{"gradient":"linear","x1":0,"y1":0,"x2":0,"y2":1,"stops":[{"offset":0,"color":"#a85080"},{"offset":0.175,"color":"#a85080"},{"offset":0.175,"color":"#b8688f"},{"offset":0.256,"color":"#b8688f"},{"offset":0.256,"color":"#c87da5"},{"offset":0.378,"color":"#c87da5"},{"offset":0.378,"color":"#e098bc"},{"offset":0.5,"color":"#e098bc"},{"offset":0.5,"color":"#9fc6e6"},{"offset":0.622,"color":"#9fc6e6"},{"offset":0.622,"color":"#7faad0"},{"offset":0.772,"color":"#7faad0"},{"offset":0.772,"color":"#6a98c0"},{"offset":0.886,"color":"#6a98c0"},{"offset":0.886,"color":"#4a7aa5"},{"offset":1,"color":"#4a7aa5"}]}},"encoding":{"x":{"field":"t","type":"quantitative","axis":null},"y":{"field":"v","type":"quantitative","axis":null},"y2":{"datum":0.11}}},
{"data":{"name":"p1"},"mark":{"type":"line","strokeWidth":1.3,"stroke":{"gradient":"linear","x1":0,"y1":0,"x2":0,"y2":1,"stops":[{"offset":0,"color":"#f02030"},{"offset":0.5,"color":"#f02030"},{"offset":0.5,"color":"#18e818"},{"offset":1,"color":"#18e818"}]}},"encoding":{"x":{"field":"t","type":"quantitative","axis":null},"y":{"field":"v","type":"quantitative","axis":null}}},
{"data":{"values":[{"t":5,"s":"主力等级:","k":"t"},{"t":145,"s":"级别:","k":"n"}]},"mark":{"type":"text","align":"left","font":"Noto Sans CJK SC","fontSize":16},"encoding":{"x":{"field":"t","type":"quantitative","axis":null},"y":{"datum":5.5,"type":"quantitative","axis":null},"text":{"field":"s"},"color":{"field":"k","type":"nominal","legend":null,"scale":{"domain":["u","d","t","n"],"range":["#c05058","#5c9a86","#3a90c0","#555"]}}}},
{"data":{"values":[{"t":100,"s":"1.64","k":"u"},{"t":200,"s":"B","k":"u"},{"t":243,"s":"0.05 C","k":"u"},{"t":483,"s":"-1.10 -B","k":"d"},{"t":723,"s":"3.06 AA","k":"u"},{"t":963,"s":"-2.36 -A","k":"d"},{"t":1203,"s":"-1.37 -B","k":"d"}]},"mark":{"type":"text","align":"left","font":"Liberation Mono","fontSize":14},"encoding":{"x":{"field":"t","type":"quantitative","axis":null},"y":{"datum":5.5,"type":"quantitative","axis":null},"text":{"field":"s"},"color":{"field":"k","type":"nominal","legend":null}}},
{"data":{"name":"cross"},"mark":{"type":"rule","color":"#111","strokeWidth":2,"strokeDash":[5,3]},"encoding":{"x":{"field":"t","type":"quantitative","axis":null}}}
]},
{"width":1200,"height":113,"resolve":{"axis":{"x":"independent","y":"independent"}},"layer":[
{"data":{"values":[{"g":11.47}]},"mark":{"type":"rule","color":"#ff9a9a","strokeWidth":1.5},"encoding":{"y":{"field":"g","type":"quantitative","scale":{"domain":[-11.44,11.47],"nice":false,"zero":false},"axis":{"orient":"left","offset":-75,"values":[6.33,-1.98,-10.3],"format":".2f","labelColor":"#3a90c0","labelBaseline":{"expr":"datum.value>1?'top':(datum.value<-5?'bottom':'middle')"}}}}},
{"data":{"values":[{"g":6.33},{"g":-1.98},{"g":-10.3}]},"mark":{"type":"rule","color":"#ffb0b0","strokeDash":[3,3]},"encoding":{"x":{"datum":0,"type":"quantitative","scale":{"domain":[-89.2,1319.2],"nice":false,"zero":false},"axis":null},"x2":{"datum":1319.2},"y":{"field":"g","type":"quantitative","axis":null}}},
{"data":{"name":"p2"},"mark":{"type":"area","color":{"gradient":"linear","x1":0,"y1":0,"x2":0,"y2":1,"stops":[{"offset":0,"color":"#a04070"},{"offset":0.11,"color":"#a04070"},{"offset":0.11,"color":"#b05585"},{"offset":0.192,"color":"#b05585"},{"offset":0.192,"color":"#bb6a96"},{"offset":0.253,"color":"#bb6a96"},{"offset":0.253,"color":"#cc80aa"},{"offset":0.314,"color":"#cc80aa"},{"offset":0.314,"color":"#e098bc"},{"offset":0.3755,"color":"#e098bc"},{"offset":0.3755,"color":"#a0c6e6"},{"offset":0.416,"color":"#a0c6e6"},{"offset":0.416,"color":"#90b8dc"},{"offset":0.457,"color":"#90b8dc"},{"offset":0.457,"color":"#7eaad0"},{"offset":0.518,"color":"#7eaad0"},{"offset":0.518,"color":"#6090bc"},{"offset":0.608,"color":"#6090bc"},{"offset":0.608,"color":"#44709c"},{"offset":1,"color":"#44709c"}]}},"encoding":{"x":{"field":"t","type":"quantitative","axis":null},"y":{"field":"v","type":"quantitative","axis":null},"y2":{"datum":0.05}}},
{"data":{"name":"p2"},"mark":{"type":"line","strokeWidth":1.3,"stroke":{"gradient":"linear","x1":0,"y1":0,"x2":0,"y2":1,"stops":[{"offset":0,"color":"#f02030"},{"offset":0.3755,"color":"#f02030"},{"offset":0.3755,"color":"#18e818"},{"offset":1,"color":"#18e818"}]}},"encoding":{"x":{"field":"t","type":"quantitative","axis":null},"y":{"field":"v","type":"quantitative","axis":null}}},
{"data":{"values":[{"t":5,"s":"委比等级:","k":"t"},{"t":155,"s":"级别:","k":"n"}]},"mark":{"type":"text","align":"left","font":"Noto Sans CJK SC","fontSize":16},"encoding":{"x":{"field":"t","type":"quantitative","axis":null},"y":{"datum":9.9,"type":"quantitative","axis":null},"text":{"field":"s"},"color":{"field":"k","type":"nominal","legend":null,"scale":{"domain":["u","d","t","n"],"range":["#c05058","#5c9a86","#3a90c0","#555"]}}}},
{"data":{"values":[{"t":99,"s":"-1.93","k":"d"},{"t":210,"s":"-B","k":"d"},{"t":243,"s":"-0.57 -C","k":"d"},{"t":483,"s":"3.51 AA","k":"u"},{"t":723,"s":"-0.91 -C","k":"d"},{"t":963,"s":"4.27 AAA","k":"u"},{"t":1203,"s":"-4.34 -AAA","k":"d"}]},"mark":{"type":"text","align":"left","font":"Liberation Mono","fontSize":14},"encoding":{"x":{"field":"t","type":"quantitative","axis":null},"y":{"datum":9.9,"type":"quantitative","axis":null},"text":{"field":"s"},"color":{"field":"k","type":"nominal","legend":null}}},
{"data":{"name":"cross"},"mark":{"type":"rule","color":"#111","strokeWidth":2,"strokeDash":[5,3]},"encoding":{"x":{"field":"t","type":"quantitative","axis":null}}}
]},
{"width":1200,"height":109,"resolve":{"axis":{"x":"independent","y":"independent"}},"layer":[
{"data":{"values":[{"g":7.77}]},"mark":{"type":"rule","color":"#ff9a9a","strokeWidth":1.5},"encoding":{"y":{"field":"g","type":"quantitative","scale":{"domain":[-13.75,7.77],"nice":false,"zero":false},"axis":{"orient":"left","offset":-75,"values":[2.5,-5.59,-13.67],"format":".2f","labelColor":"#3a90c0","labelBaseline":{"expr":"datum.value>1?'top':(datum.value<-8?'bottom':'middle')"}}}}},
{"data":{"values":[{"g":2.5},{"g":-5.59}]},"mark":{"type":"rule","color":"#ffb0b0","strokeDash":[3,3]},"encoding":{"x":{"datum":0,"type":"quantitative","scale":{"domain":[-89.2,1319.2],"nice":false,"zero":false},"axis":null},"x2":{"datum":1319.2},"y":{"field":"g","type":"quantitative","axis":null}}},
{"data":{"name":"p3"},"mark":{"type":"area","color":{"gradient":"linear","x1":0,"y1":0,"x2":0,"y2":1,"stops":[{"offset":0,"color":"#b85888"},{"offset":0.061,"color":"#b85888"},{"offset":0.061,"color":"#dc90b8"},{"offset":0.135,"color":"#dc90b8"},{"offset":0.135,"color":"#9fc6e6"},{"offset":0.204,"color":"#9fc6e6"},{"offset":0.204,"color":"#8db6da"},{"offset":0.273,"color":"#8db6da"},{"offset":0.273,"color":"#78a6cd"},{"offset":0.327,"color":"#78a6cd"},{"offset":0.327,"color":"#6490b8"},{"offset":0.388,"color":"#6490b8"},{"offset":0.388,"color":"#446f9c"},{"offset":1,"color":"#446f9c"}]}},"encoding":{"x":{"field":"t","type":"quantitative","axis":null},"y":{"field":"v","type":"quantitative","axis":null},"y2":{"datum":0.33}}},
{"data":{"name":"p3"},"mark":{"type":"line","strokeWidth":1.3,"stroke":{"gradient":"linear","x1":0,"y1":0,"x2":0,"y2":1,"stops":[{"offset":0,"color":"#f02030"},{"offset":0.135,"color":"#f02030"},{"offset":0.135,"color":"#18e818"},{"offset":1,"color":"#18e818"}]}},"encoding":{"x":{"field":"t","type":"quantitative","axis":null},"y":{"field":"v","type":"quantitative","axis":null}}},
{"data":{"values":[{"t":5,"s":"资金等级:","k":"t"},{"t":155,"s":"级别:","k":"n"}]},"mark":{"type":"text","align":"left","font":"Noto Sans CJK SC","fontSize":16},"encoding":{"x":{"field":"t","type":"quantitative","axis":null},"y":{"datum":5.8,"type":"quantitative","axis":null},"text":{"field":"s"},"color":{"field":"k","type":"nominal","legend":null,"scale":{"domain":["u","d","t","n"],"range":["#c05058","#5c9a86","#3a90c0","#555"]}}}},
{"data":{"values":[{"t":99,"s":"-1.77","k":"d"},{"t":210,"s":"-B","k":"d"},{"t":243,"s":"-4.09 -AAA","k":"d"},{"t":483,"s":"1.34 B","k":"u"},{"t":723,"s":"-3.66 -AA","k":"d"},{"t":963,"s":"-2.28 -A","k":"d"},{"t":1203,"s":"-6.29 -AAA","k":"d"}]},"mark":{"type":"text","align":"left","font":"Liberation Mono","fontSize":14},"encoding":{"x":{"field":"t","type":"quantitative","axis":null},"y":{"datum":5.8,"type":"quantitative","axis":null},"text":{"field":"s"},"color":{"field":"k","type":"nominal","legend":null}}},
{"data":{"name":"cross"},"mark":{"type":"rule","color":"#111","strokeWidth":2,"strokeDash":[5,3]},"encoding":{"x":{"field":"t","type":"quantitative","axis":null}}},
{"data":{"values":[{"g":-1.45}]},"mark":{"type":"rule","color":"#111","strokeWidth":1.5,"strokeDash":[5,3]},"encoding":{"y":{"field":"g","type":"quantitative","axis":null}}},
{"data":{"values":[{"a":-89.2,"b":-1}]},"mark":{"type":"rect","color":"#5656a0","stroke":"#ff8a9a"},"encoding":{"x":{"field":"a","type":"quantitative","axis":null},"x2":{"field":"b"},"y":{"datum":1.05,"type":"quantitative","axis":null},"y2":{"datum":-3.49}}},
{"data":{"values":[{"t":-50,"g":-1.45,"s":"-1.45"}]},"mark":{"type":"text","align":"center","font":"Liberation Mono","fontSize":14,"color":"#ffffff"},"encoding":{"x":{"field":"t","type":"quantitative","axis":null},"y":{"field":"g","type":"quantitative","axis":null},"text":{"field":"s"}}}
]}
]}
